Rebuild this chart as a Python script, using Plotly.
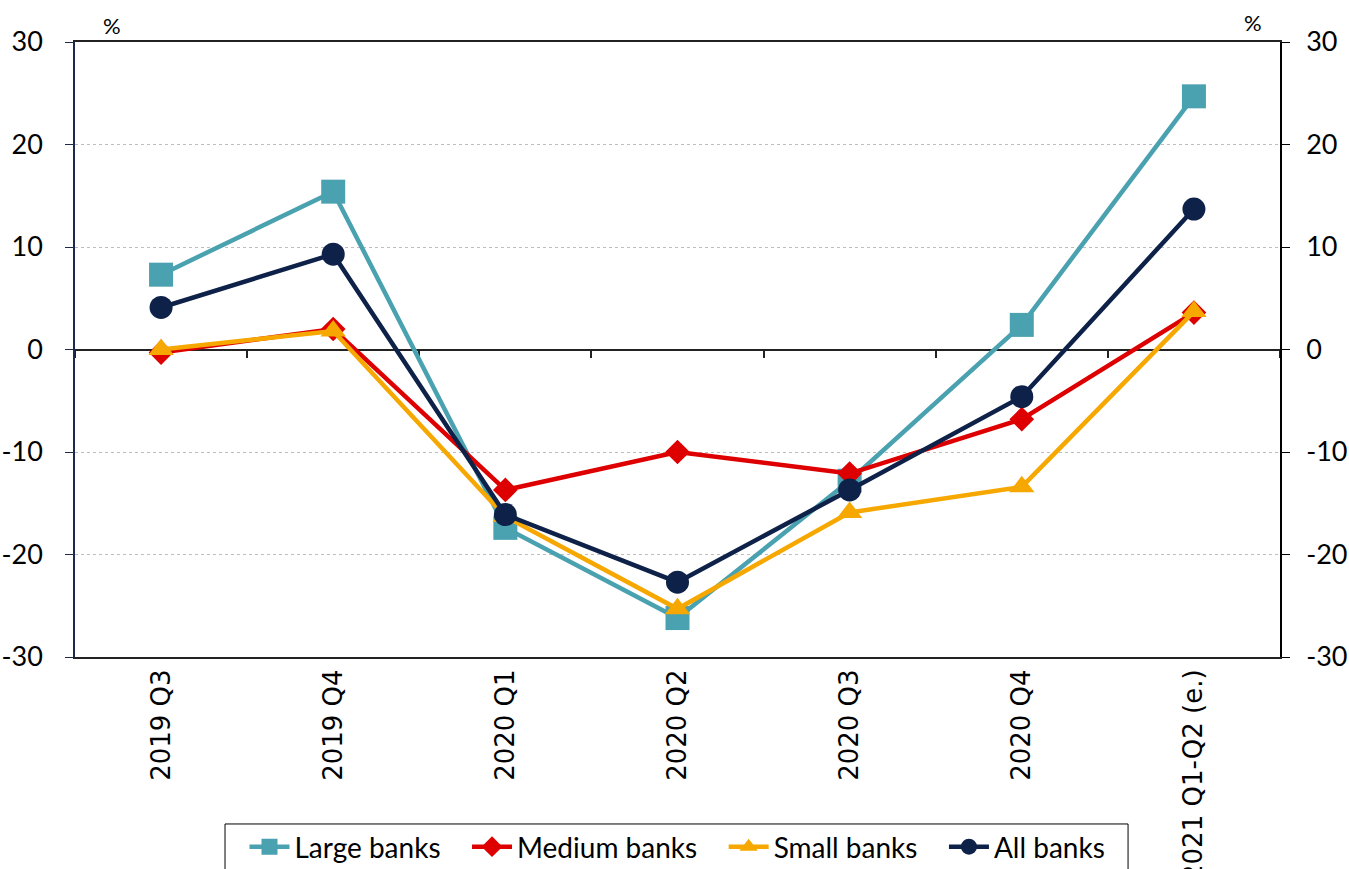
import plotly.graph_objects as go

# Quarterly change by bank size group, in percent
categories = ["2019 Q3", "2019 Q4", "2020 Q1", "2020 Q2", "2020 Q3", "2020 Q4", "2021 Q1-Q2 (e.)"]
large_banks = [7.3, 15.4, -17.4, -26.2, -12.8, 2.4, 24.7]
medium_banks = [-0.3, 2.0, -13.7, -10.0, -12.1, -6.8, 3.6]
small_banks = [0.0, 1.8, -16.3, -25.3, -15.9, -13.4, 3.7]
all_banks = [4.1, 9.3, -16.1, -22.7, -13.7, -4.6, 13.7]
y_ticks = [-30, -20, -10, 0, 10, 20, 30]
y_ticktext = [str(v) for v in y_ticks]

FONT = "Lato"
positions = list(range(len(categories)))
x_range = [-0.5, len(categories) - 0.5]
pad = "\u00a0" * 3  # spacing between legend entries

series = [
    ("Large banks", large_banks, "#4AA1B0", "square", 24, "x", "y"),
    ("Medium banks", medium_banks, "#DE0000", "diamond", 19, "x", "y"),
    ("Small banks", small_banks, "#F6A800", "triangle-up", 22, "x", "y"),
    ("All banks", all_banks, "#0E2148", "circle", 23, "x2", "y2"),
]

fig = go.Figure()
for name, values, color, symbol, size, xa, ya in series:
    fig.add_trace(go.Scatter(
        x=positions, y=values, name=name + pad, mode="lines+markers",
        line=dict(color=color, width=4.5),
        marker=dict(symbol=symbol, size=size, color=color, line=dict(width=0)),
        xaxis=xa, yaxis=ya,
    ))

fig.update_layout(
    width=1349, height=869,
    margin=dict(l=75, r=69, t=42, b=212),
    paper_bgcolor="white", plot_bgcolor="white",
    font=dict(family=FONT, color="black", size=26),
    showlegend=True,
    legend=dict(
        orientation="h", xref="container", yref="container",
        x=0.51, xanchor="center", y=0.0253, yanchor="middle",
        borderwidth=0, bgcolor="rgba(0,0,0,0)",
        font=dict(family=FONT, size=28), itemwidth=40,
    ),
    shapes=[
        # legend frame
        dict(type="rect", xref="paper", yref="paper",
             x0=0.1245, x1=0.8739, y0=-0.2715, y1=-0.40,
             line=dict(color="black", width=1), fillcolor="rgba(0,0,0,0)",
             layer="below"),
    ],
    xaxis=dict(
        range=x_range, automargin=False,
        tickmode="array", tickvals=positions, ticktext=categories,
        tickangle=-90, ticks="", showgrid=False, zeroline=False,
        showline=True, linecolor="#222", linewidth=2, mirror=True,
        tickfont=dict(family="DejaVu Sans", size=26),
    ),
    xaxis2=dict(
        overlaying="x", anchor="free", position=0.5, range=x_range,
        tickmode="array", tickvals=[p - 0.5 for p in positions] + [x_range[1]],
        ticks="outside", ticklen=8, tickcolor="#222", tickwidth=1.5,
        showticklabels=False, showgrid=False, zeroline=False,
        showline=True, linecolor="#222", linewidth=1.5, layer="below traces",
    ),
    yaxis=dict(
        range=[-30, 30], tickmode="array", tickvals=y_ticks, ticktext=y_ticktext,
        showgrid=True, gridcolor="#BDBDBD", griddash="dot", gridwidth=1,
        zeroline=False, automargin=False,
        showline=True, linecolor="#1E2A4A", linewidth=1.5,
        ticks="outside", ticklen=8, tickcolor="#1E2A4A",
        ticklabelstandoff=17,
        tickfont=dict(family=FONT, size=27),
    ),
    yaxis2=dict(
        overlaying="y", side="right", anchor="x", automargin=False,
        range=[-30, 30], tickmode="array", tickvals=y_ticks, ticktext=y_ticktext,
        showgrid=False, zeroline=False,
        showline=True, linecolor="black", linewidth=1.5,
        ticks="outside", ticklen=8, tickcolor="black",
        ticklabelstandoff=11,
        tickfont=dict(family=FONT, size=27),
    ),
    annotations=[
        dict(text="%", xref="paper", yref="paper", x=0.0307, y=1.0276,
             xanchor="center", yanchor="middle", showarrow=False,
             font=dict(family=FONT, size=22)),
        dict(text="%", xref="paper", yref="paper", x=0.9776, y=1.0325,
             xanchor="center", yanchor="middle", showarrow=False,
             font=dict(family=FONT, size=22)),
    ],
)

fig.write_html("out.html")
